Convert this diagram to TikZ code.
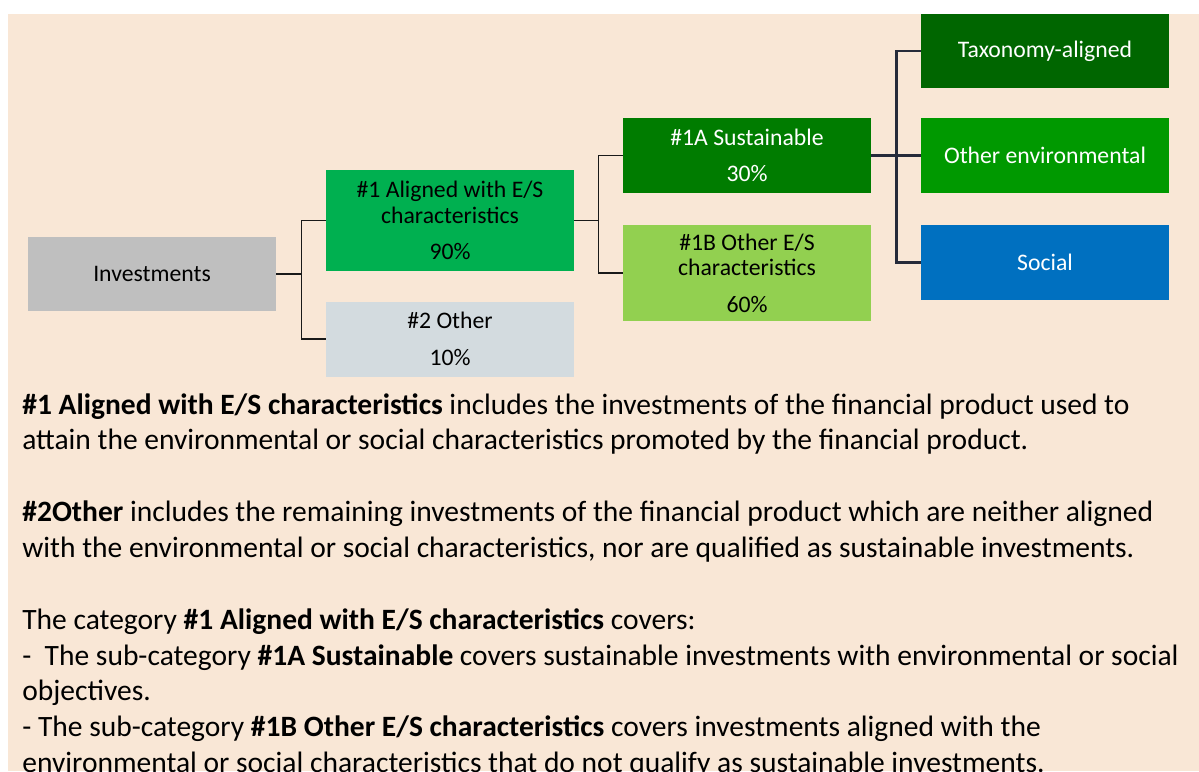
\documentclass[tikz,border=0pt]{standalone}
\usepackage{fontspec}
\setmainfont{Carlito}
\usepackage{tikz}

\definecolor{peach}{HTML}{F9E7D6}
\definecolor{invgray}{HTML}{BFBFBF}
\definecolor{othgray}{HTML}{D3DBDF}
\definecolor{algreen}{HTML}{00B050}
\definecolor{susgreen}{HTML}{007C00}
\definecolor{esgreen}{HTML}{92D050}
\definecolor{taxgreen}{HTML}{006600}
\definecolor{envgreen}{HTML}{009900}
\definecolor{socblue}{HTML}{0070C0}
\definecolor{navyline}{HTML}{262B3A}

\begin{document}
\begin{tikzpicture}[x=0.02cm,y=-0.02cm,
	box/.style={minimum width=4.96cm,minimum height=1.5cm,inner sep=0pt,align=center,font=\fontsize{13.5}{14.7}\selectfont},
	link/.style={line width=0.85pt,black!90},
	bold link/.style={line width=1.7pt,navyline}]
	\useasboundingbox (0,0) rectangle (1199,771);
	\clip (0,0) rectangle (1199,771);
	\fill[white] (0,0) rectangle (1199,771);
	\fill[peach] (8,14) rectangle (1199,771);
	
	\node[box,fill=invgray] (inv) at (152,274) {Investments};
	\node[box,fill=algreen,minimum height=2.02cm] (al) at (450,220.5) {\#1 Aligned with E/S\\characteristics\\[6pt]90\%};
	\node[box,fill=othgray] (oth) at (450,339) {\#2 Other\\[6pt]10\%};
	\node[box,fill=susgreen,text=white] (sus) at (747,155.5) {\#1A Sustainable\\[6pt]30\%};
	\node[box,fill=esgreen,minimum height=1.92cm] (oes) at (747,273) {\#1B Other E/S\\characteristics\\[6pt]60\%};
	\node[box,fill=taxgreen,text=white] (tax) at (1045,51) {Taxonomy-aligned};
	\node[box,fill=envgreen,text=white] (env) at (1045,155.5) {Other environmental};
	\node[box,fill=socblue,text=white] (soc) at (1045,262.5) {Social};
	
	\draw[link] (inv.east) -- ++(25,0) |- (al.west);
	\draw[link] (inv.east) -- ++(25,0) |- (oth.west);
	\draw[link] (al.east) -- ++(24,0) |- (sus.west);
	\draw[link] (al.east) -- ++(24,0) |- (oes.west);
	\draw[bold link] (sus.east) -- ++(25,0) |- (tax.west);
	\draw[bold link] (sus.east) -- (env.west);
	\draw[bold link] (sus.east) -- ++(25,0) |- (soc.west);
	
	\node[anchor=north west,inner sep=0pt,align=left,font=\fontsize{16.8}{20.4}\selectfont] (notes) at (22,393)
	{\textbf{\#1 Aligned with E/S characteristics} includes the investments of the financial product used to\\
	attain the environmental or social characteristics promoted by the financial product.\\[20.4pt]
	\textbf{\#2Other} includes the remaining investments of the financial product which are neither aligned\\
	with the environmental or social characteristics, nor are qualified as sustainable investments.\\[20.4pt]
	The category \textbf{\#1 Aligned with E/S characteristics} covers:\\
	-~ The sub-category \textbf{\#1A Sustainable} covers sustainable investments with environmental or social\\
	objectives.\\
	- The sub-category \textbf{\#1B Other E/S characteristics} covers investments aligned with the\\
	environmental or social characteristics that do not qualify as sustainable investments.};
\end{tikzpicture}
\end{document}
